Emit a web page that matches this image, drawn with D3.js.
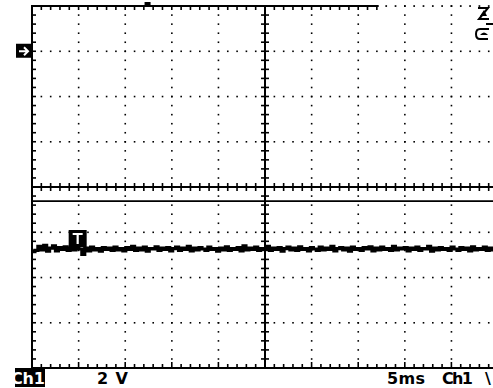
<!DOCTYPE html>
<html><head><meta charset="utf-8">
<script src="https://cdn.jsdelivr.net/npm/d3@7"></script>
<style>html,body{margin:0;padding:0;background:#fff;}svg{display:block;}</style>
</head><body>
<svg id="c" width="493" height="388"></svg>
<script>
// ---- data ----
const timeSpanMs = [0, 50];          // 10 div x 5 ms
const voltSpan = [2, -14];           // 8 div x 2 V, ground marker at 0 V
const voltsPerDiv = 2, msPerDiv = 5;
const scaleLabels = ["2 V", "5ms", "Ch1"];
const refLevelV = -6.62;             // solid horizontal line
const triggerTimeMs = 4.9;           // "T" marker position
const topMarkerMs = 12.4;            // marker on top border
const traceVolts = [
-8.86,-8.80,-8.62,-8.78,-8.58,-8.84,-8.70,-8.60,-8.82,-8.68,-8.76,-8.64,-8.80,-8.70,-8.78,-8.66,
-8.74,-8.98,-8.70,-8.82,-8.66,-8.78,-8.72,-8.84,-8.68,-8.76,-8.70,-8.80,-8.66,-8.78,-8.72,-8.82,
-8.68,-8.76,-8.62,-8.80,-8.70,-8.78,-8.66,-8.84,-8.72,-8.74,-8.64,-8.80,-8.70,-8.76,-8.68,-8.82,
-8.72,-8.66,-8.80,-8.70,-8.76,-8.62,-8.82,-8.70,-8.78,-8.68,-8.74,-8.80,-8.66,-8.76,-8.72,-8.84,
-8.70,-8.78,-8.64,-8.80,-8.72,-8.76,-8.68,-8.82,-8.60,-8.78,-8.70,-8.76,-8.66,-8.80,-8.72,-8.74,
-8.62,-8.80,-8.70,-8.76,-8.68,-8.84,-8.72,-8.66,-8.78,-8.70,-8.80,-8.64,-8.76,-8.72,-8.82,-8.68,
-8.74,-8.80,-8.66,-8.78,-8.70,-8.76,-8.62,-8.82,-8.72,-8.68,-8.78,-8.70,-8.84,-8.66,-8.76,-8.72,
-8.80,-8.68,-8.74,-8.64,-8.82,-8.70,-8.78,-8.66,-8.76,-8.72,-8.80,-8.62,-8.78,-8.70,-8.74,-8.68,
-8.82,-8.70,-8.76,-8.66,-8.80,-8.72,-8.74,-8.62,-8.84,-8.70,-8.78,-8.68,-8.76,-8.72,-8.80,-8.66,
-8.74,-8.80,-8.68,-8.76,-8.70,-8.82,-8.64,-8.78,-8.72,-8.76,-8.66,-8.80,-8.70,-8.78,-8.72,-8.76
];

// ---- scales ----
const svg = d3.select("#c");
const x = d3.scaleLinear().domain(timeSpanMs).range([32, 498]);
const y = d3.scaleLinear().domain(voltSpan).range([6, 368]);
const L = x(timeSpanMs[0]), R = x(timeSpanMs[1]), T = y(voltSpan[0]), B = y(voltSpan[1]);
const cx = x(25), cy = y(-6);
const K = "#000";

const minorT = d3.range(0, 50.001, msPerDiv / 5);
const minorV = d3.range(voltSpan[0], voltSpan[1] - 0.001, -voltsPerDiv / 5);
const majorT = d3.range(5, 50, 5).filter(t => t !== 25);
const majorV = d3.range(0, -13, -2).filter(v => v !== -6);

const g = svg.append("g");
// dotted grid
majorV.forEach(v => {
  g.selectAll(null).data(minorT).enter().append("rect")
    .attr("x", d => x(d) - 0.75).attr("y", y(v) - 0.75).attr("width", 1.6).attr("height", 1.6).attr("fill", K);
});
majorT.forEach(t => {
  g.selectAll(null).data(minorV).enter().append("rect")
    .attr("x", x(t) - 0.75).attr("y", d => y(d) - 0.75).attr("width", 1.6).attr("height", 1.6).attr("fill", K);
});
// top border: solid part + dotted part
const solidEndMs = 37.2;
g.append("line").attr("x1", L - 1).attr("x2", x(solidEndMs)).attr("y1", T).attr("y2", T).attr("stroke", K).attr("stroke-width", 2);
g.selectAll(null).data(minorT.filter(t => t > solidEndMs)).enter().append("rect")
  .attr("x", d => x(d) - 0.8).attr("y", T - 0.8).attr("width", 1.7).attr("height", 1.7).attr("fill", K);
g.selectAll(null).data(minorT.filter(t => t <= solidEndMs)).enter().append("line")
  .attr("x1", d => x(d)).attr("x2", d => x(d)).attr("y1", T).attr("y2", T + 4).attr("stroke", K).attr("stroke-width", 1.6);
// top marker
g.append("rect").attr("x", x(topMarkerMs) - 3).attr("y", 2).attr("width", 6).attr("height", 4).attr("fill", K);
// left border
g.append("line").attr("x1", L).attr("x2", L).attr("y1", T - 1).attr("y2", B + 1).attr("stroke", K).attr("stroke-width", 2);
g.selectAll(null).data(minorV).enter().append("line")
  .attr("x1", L).attr("x2", L + 4).attr("y1", d => y(d)).attr("y2", d => y(d)).attr("stroke", K).attr("stroke-width", 1.6);
// bottom border
g.append("line").attr("x1", L - 1).attr("x2", R).attr("y1", B).attr("y2", B).attr("stroke", K).attr("stroke-width", 2);
g.selectAll(null).data(minorT).enter().append("line")
  .attr("x1", d => x(d)).attr("x2", d => x(d)).attr("y1", B).attr("y2", d => (Math.abs(d % 5) < 0.01 ? B - 6 : B - 4))
  .attr("stroke", K).attr("stroke-width", 1.6);
// center crosshair
g.append("line").attr("x1", cx).attr("x2", cx).attr("y1", T).attr("y2", B).attr("stroke", K).attr("stroke-width", 2);
g.append("line").attr("x1", L).attr("x2", R).attr("y1", cy).attr("y2", cy).attr("stroke", K).attr("stroke-width", 2);
g.selectAll(null).data(minorV).enter().append("line")
  .attr("x1", cx - 4).attr("x2", cx + 4).attr("y1", d => y(d)).attr("y2", d => y(d)).attr("stroke", K).attr("stroke-width", 1.6);
g.selectAll(null).data(minorT).enter().append("line")
  .attr("x1", d => x(d)).attr("x2", d => x(d)).attr("y1", cy - 4).attr("y2", cy + 4).attr("stroke", K).attr("stroke-width", 1.6);
// reference line
g.append("line").attr("x1", L).attr("x2", R).attr("y1", y(refLevelV)).attr("y2", y(refLevelV)).attr("stroke", K).attr("stroke-width", 1.8);

// trace
const step = (timeSpanMs[1] - timeSpanMs[0]) / (traceVolts.length - 1);
const line = d3.line().x((d, i) => x(i * step)).y(d => y(d)).curve(d3.curveStepAfter);
g.append("path").datum(traceVolts).attr("d", line).attr("fill", "none").attr("stroke", K).attr("stroke-width", 3.2);

// trigger T marker
const tx = x(triggerTimeMs);
g.append("rect").attr("x", tx - 9).attr("y", 230).attr("width", 18).attr("height", 17).attr("fill", K);
g.append("path").attr("d", `M${tx-5},234 H${tx+5} M${tx},234 V244`).attr("stroke", "#fff").attr("stroke-width", 2.2).attr("fill", "none");

// ground marker arrow
const gy = y(0);
g.append("rect").attr("x", 16).attr("y", gy - 7.5).attr("width", 16).attr("height", 14).attr("fill", K);
g.append("path").attr("d", `M19,${gy} H28 M24,${gy-4} L28,${gy} L24,${gy+4}`).attr("stroke", "#fff").attr("stroke-width", 2).attr("fill", "none");

// top-right trigger symbol
g.append("path").attr("d", "M478,8 H488 L479,19 H489").attr("stroke", K).attr("stroke-width", 2).attr("fill", "none");
g.append("path").attr("d", "M480,16 L484,10 L487,16 Z").attr("fill", K);
g.append("line").attr("x1", 486).attr("x2", 493).attr("y1", 24).attr("y2", 24).attr("stroke", K).attr("stroke-width", 2);
g.append("path").attr("d", "M489,29 H480 Q476,29 476,34 Q476,39 480,39 H488").attr("stroke", K).attr("stroke-width", 2).attr("fill", "none");
g.append("path").attr("d", "M480,35 Q484,30 488,35 Z").attr("fill", K);

// bottom texts
const font = "'DejaVu Sans', sans-serif";
svg.append("defs").append("clipPath").attr("id", "chclip").append("rect").attr("x", 15).attr("y", 368).attr("width", 30).attr("height", 20);
svg.append("rect").attr("x", 15).attr("y", 368).attr("width", 30).attr("height", 19).attr("fill", K);
svg.append("text").attr("clip-path", "url(#chclip)").attr("x", 11).attr("y", 384).attr("font-family", font).attr("font-weight", "bold").attr("font-size", 16).attr("fill", "#fff").attr("textLength", 34).text(scaleLabels[2]);
svg.append("text").attr("x", 97).attr("y", 384).attr("font-family", font).attr("font-weight", "bold").attr("font-size", 16).attr("fill", K).attr("textLength", 31).attr("xml:space", "preserve").text(scaleLabels[0]);
svg.append("text").attr("x", 387).attr("y", 384).attr("font-family", font).attr("font-weight", "bold").attr("font-size", 16).attr("fill", K).attr("textLength", 38).text(scaleLabels[1]);
svg.append("text").attr("x", 442).attr("y", 384).attr("font-family", font).attr("font-weight", "bold").attr("font-size", 16).attr("fill", K).attr("textLength", 31).text(scaleLabels[2]);
svg.append("text").attr("x", 485).attr("y", 384).attr("font-family", font).attr("font-weight", "bold").attr("font-size", 16).attr("fill", K).text("\\");
</script>
</body></html>
